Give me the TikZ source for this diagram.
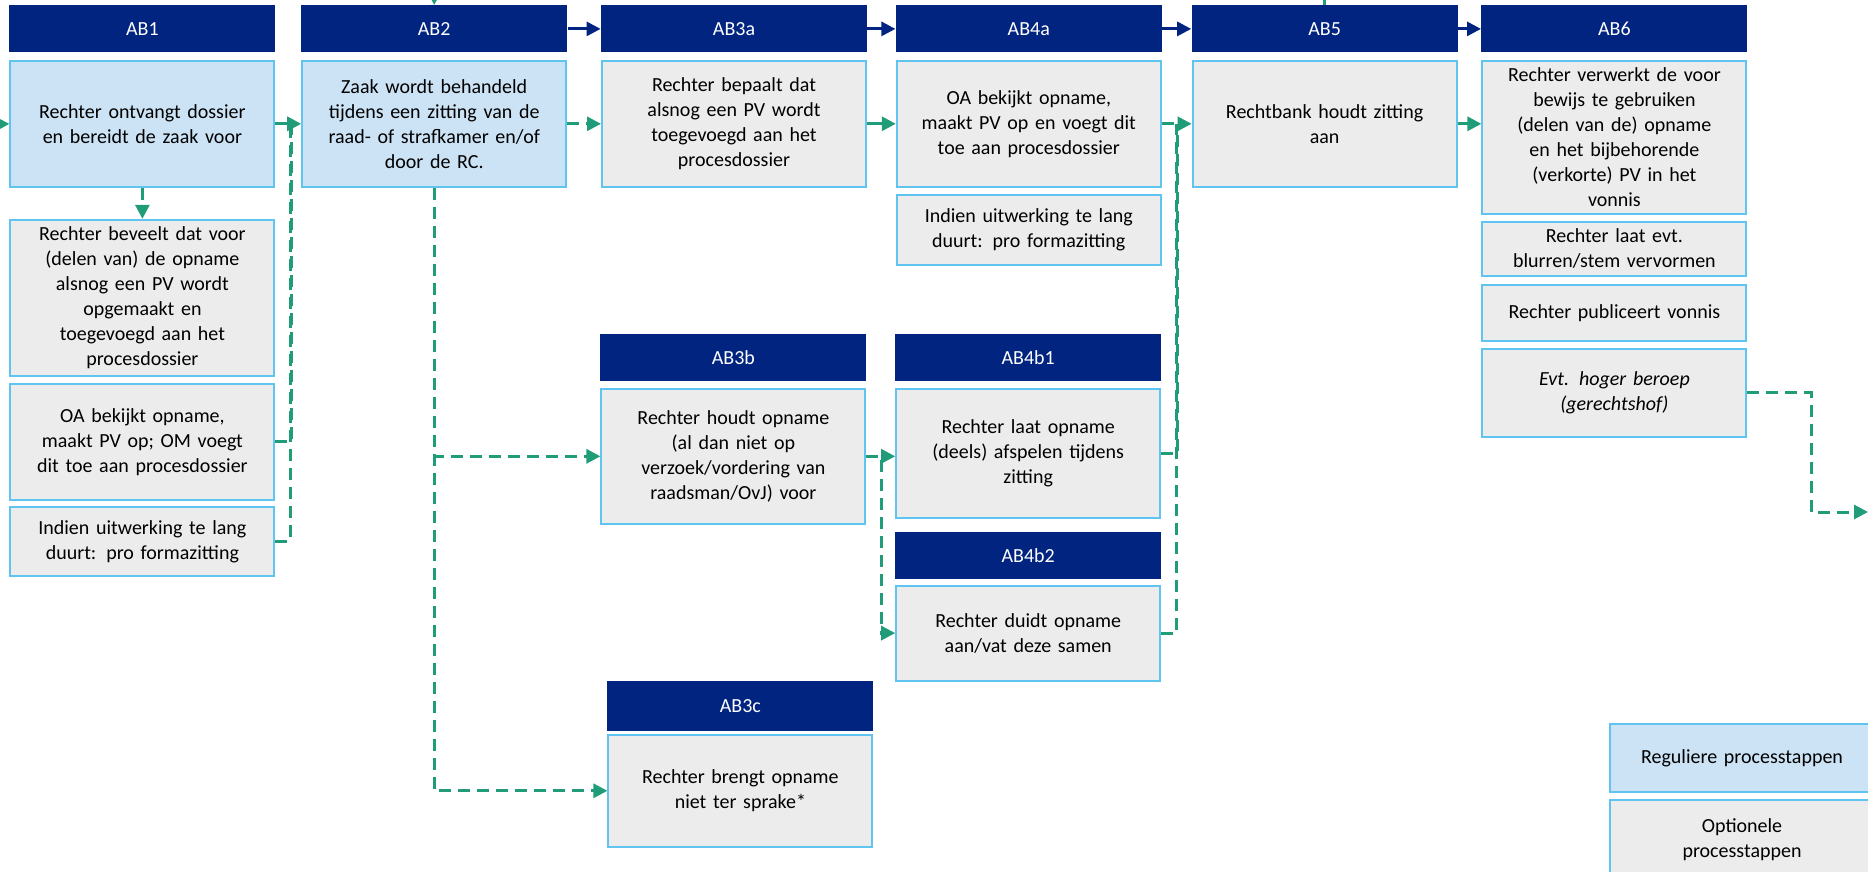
\documentclass[tikz,border=0pt]{standalone}
\usepackage{fontspec}
\setmainfont{Carlito}
\usepackage{tikz}
\usetikzlibrary{positioning}
\usetikzlibrary{arrows.meta}
\definecolor{hdrblue}{RGB}{0,36,128}
\definecolor{regfill}{RGB}{204,227,245}
\definecolor{optfill}{RGB}{236,236,236}
\definecolor{boxline}{RGB}{95,197,240}
\definecolor{flowgreen}{RGB}{32,156,120}
\tikzset{
  hdr/.style={fill=hdrblue,text=white,minimum width=133pt,minimum height=23.5pt,inner sep=0,font=\fontsize{10}{12.5}\selectfont},
  stepbox/.style={draw=boxline,line width=1pt,minimum width=132pt,text width=125pt,align=center,inner xsep=3pt,inner ysep=1pt,font=\fontsize{10}{12.5}\selectfont},
  regbox/.style={stepbox,fill=regfill},
  optbox/.style={stepbox,fill=optfill},
  flowline/.style={draw=flowgreen,line width=1.5pt},
  flow/.style={flowline,-{Triangle[length=7pt,width=7pt]}},
  optline/.style={flowline,dash pattern=on 6pt off 3.5pt},
  opt/.style={flow,dash pattern=on 6pt off 3.5pt},
  hdrflow/.style={draw=hdrblue,line width=1.4pt,-{Triangle[length=7pt,width=7pt]}}
}

\begin{document}
\begin{tikzpicture}[x=0.5pt,y=-0.5pt]
  \useasboundingbox (0,0) rectangle (1868,872);
  \clip (0,0) rectangle (1868,872);

  % AB1
  \node[hdr,anchor=north west] (ab1h) at (9,5) {AB1};
  \node[regbox,minimum height=63pt,below=3.5pt of ab1h] (ab1) {Rechter ontvangt dossier\\en bereidt de zaak voor};
  \node[optbox,minimum height=78pt,below=15.5pt of ab1] (bev) {Rechter beveelt dat voor\\(delen van) de opname\\alsnog een PV wordt\\opgemaakt en\\toegevoegd aan het\\procesdossier};
  \node[optbox,minimum height=58pt,below=3pt of bev] (oa1) {OA bekijkt opname,\\maakt PV op; OM voegt\\dit toe aan procesdossier};
  \node[optbox,minimum height=34.5pt,below=2.5pt of oa1] (ind1) {Indien uitwerking te lang\\duurt: pro formazitting};

  % AB2
  \node[hdr,right=12.5pt of ab1h] (ab2h) {AB2};
  \node[regbox,minimum height=63pt,below=3.5pt of ab2h] (ab2) {Zaak wordt behandeld\\tijdens een zitting van de\\raad- of strafkamer en/of\\door de RC.};

  % AB3a
  \node[hdr,right=16.5pt of ab2h] (ab3ah) {AB3a};
  \node[optbox,minimum height=63pt,below=3.5pt of ab3ah] (ab3a) {Rechter bepaalt dat\\alsnog een PV wordt\\toegevoegd aan het\\procesdossier};

  % AB4a
  \node[hdr,right=14pt of ab3ah] (ab4ah) {AB4a};
  \node[optbox,minimum height=63pt,below=3.5pt of ab4ah] (ab4a) {OA bekijkt opname,\\maakt PV op en voegt dit\\toe aan procesdossier};
  \node[optbox,minimum height=35pt,below=3pt of ab4a] (ind2) {Indien uitwerking te lang\\duurt: pro formazitting};

  % AB5
  \node[hdr,right=14.5pt of ab4ah] (ab5h) {AB5};
  \node[optbox,minimum height=63pt,below=3.5pt of ab5h] (ab5) {Rechtbank houdt zitting\\aan};

  % AB6
  \node[hdr,right=11.5pt of ab5h] (ab6h) {AB6};
  \node[optbox,minimum height=76.5pt,below=3.5pt of ab6h] (ab6) {Rechter verwerkt de voor\\bewijs te gebruiken\\(delen van de) opname\\en het bijbehorende\\(verkorte) PV in het\\vonnis};
  \node[optbox,minimum height=27pt,below=3pt of ab6] (blur) {Rechter laat evt.\\blurren/stem vervormen};
  \node[optbox,minimum height=28pt,below=3.5pt of blur] (publ) {Rechter publiceert vonnis};
  \node[optbox,minimum height=44pt,below=3pt of publ,font=\fontsize{10}{12.5}\selectfont\itshape] (hoger) {Evt. hoger beroep\\(gerechtshof)};

  % AB3b, AB4b1, AB4b2
  \node[hdr,anchor=north west] (ab3bh) at (600,334) {AB3b};
  \node[optbox,minimum height=67.5pt,below=3pt of ab3bh] (ab3b) {Rechter houdt opname\\(al dan niet op\\verzoek/vordering van\\raadsman/OvJ) voor};
  \node[hdr,right=14pt of ab3bh] (ab4b1h) {AB4b1};
  \node[optbox,minimum height=64.5pt,below=3pt of ab4b1h] (ab4b1) {Rechter laat opname\\(deels) afspelen tijdens\\zitting};
  \node[hdr,below=6.5pt of ab4b1] (ab4b2h) {AB4b2};
  \node[optbox,minimum height=47.5pt,below=2.5pt of ab4b2h] (ab4b2) {Rechter duidt opname\\aan/vat deze samen};

  % AB3c
  \node[hdr,anchor=north west,minimum height=25pt] (ab3ch) at (607,681) {AB3c};
  \node[optbox,minimum height=56pt,below=1pt of ab3ch] (ab3c) {Rechter brengt opname\\niet ter sprake*};

  % legenda
  \node[regbox,anchor=north west,minimum height=34pt] (legreg) at (1609,723) {Reguliere processtappen};
  \node[optbox,minimum height=40pt,below=3pt of legreg] (legopt) {Optionele\\processtappen};

  % header arrows
  \draw[hdrflow] (ab2h) -- (ab3ah);
  \draw[hdrflow] (ab3ah) -- (ab4ah);
  \draw[hdrflow] (ab4ah) -- (ab5h);
  \draw[hdrflow] (ab5h) -- (ab6h);

  % free ends
  \coordinate (topedge) at (0,-14);
  \coordinate (intop) at (ab2h.north |- topedge);
  \coordinate (intop5) at (ab5h.north |- topedge);
  \coordinate (inleft) at (0,124);
  \coordinate (outright) at (1868,512);

  % flow
  \draw[flow] (intop) -- (ab2h.north);
  \draw[flowline] (intop5) -- (ab5h.north);
  \draw[flow] (inleft) -- (ab1.west);
  \draw[flow] (ab1.east) -- (ab2.west);
  \draw[opt] (ab1.south) -- (bev.north);
  \draw[optline] (oa1.east) -| ([xshift=8pt]ab1.east);
  \draw[optline] (ind1.east) -| ([xshift=7.5pt]ab1.east);
  \draw[opt] (ab2.east) -- (ab2.east -| ab3a.west);
  \draw[opt] (ab2.south) |- (ab3b.west);
  \draw[opt] (ab2.south) |- (ab3c.west);
  \draw[flow] (ab3a.east) -- (ab3a.east -| ab4a.west);
  \draw[opt] (ab3b.east) -- (ab3b.east -| ab4b1.west);
  \draw[opt] (ab3b.east) -- ++(7.5pt,0) |- (ab4b2.west);
  \draw[opt] (ab4a.east) -- (ab4a.east -| ab5.west);
  \draw[optline] (ab4b1.east) -| ([xshift=-7pt]ab5.west);
  \draw[optline] (ab4b2.east) -| ([xshift=-7.5pt]ab5.west);
  \draw[opt] (ab5.east) -- (ab5.east -| ab6.west);
  \draw[opt] (hoger.east) -- ++(32pt,0) |- (outright);
\end{tikzpicture}
\end{document}
